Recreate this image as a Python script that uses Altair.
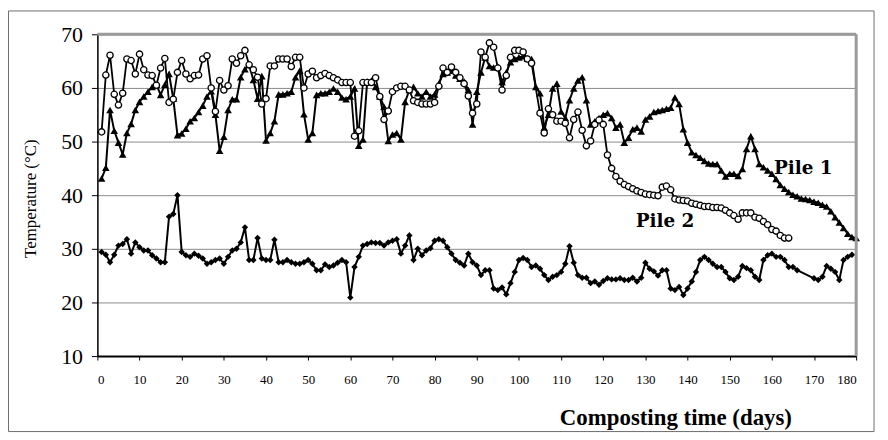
import altair as alt
import pandas as pd

# ---------------- data ----------------
pile1_days = list(range(1, 181))
pile1_temp = [
    43.1, 45.1, 55.9, 52.0, 49.8, 47.6, 51.6, 53.3, 55.9, 57.4,
    58.4, 59.3, 60.2, 60.6, 58.7, 60.6, 62.6, 58.0, 51.2, 51.5,
    52.4, 53.8, 54.4, 55.5, 56.7, 58.4, 59.4, 55.0, 48.3, 50.9,
    55.9, 57.9, 57.9, 62.0, 63.5, 64.3, 61.5, 58.0, 62.2, 50.2,
    51.6, 53.8, 58.8, 58.8, 59.0, 59.3, 62.0, 63.2, 55.1, 50.4,
    51.6, 58.7, 59.0, 59.0, 59.3, 59.9, 59.3, 58.2, 57.9, 58.4,
    59.9, 49.2, 50.4, 61.2, 61.4, 60.2, 58.4, 56.5, 50.1, 51.3,
    51.6, 50.4, 57.4, 59.6, 60.2, 59.0, 58.4, 59.3, 58.4, 58.8,
    60.8, 62.6, 62.9, 63.2, 62.3, 61.7, 61.2, 59.6, 53.2, 59.3,
    62.9, 65.7, 64.1, 63.8, 64.0, 61.1, 62.9, 64.8, 65.4, 65.7,
    65.9, 65.5, 65.4, 60.2, 59.0, 52.6, 55.0, 59.9, 60.8, 55.6,
    54.4, 57.7, 59.9, 61.4, 62.0, 57.7, 53.2, 53.8, 54.4, 55.0,
    55.3, 54.4, 52.6, 53.2, 49.8, 50.7, 52.3, 52.6, 51.9, 54.1,
    54.7, 55.5, 55.7, 55.9, 56.1, 56.3, 58.2, 57.0, 52.3, 49.8,
    48.0, 47.5, 47.0, 46.4, 45.9, 45.8, 45.8, 44.6, 43.5, 44.0,
    44.0, 43.6, 44.9, 48.6, 51.0, 48.6, 45.8, 45.2, 44.6, 44.0,
    43.0, 41.9, 41.2, 40.6, 40.1, 39.8, 39.4, 39.3, 39.1, 38.8,
    38.6, 38.2, 37.9, 37.0, 35.9, 34.9, 33.9, 32.8, 32.2, 32.0,
]

pile2_days = list(range(1, 104)) + list(range(105, 165))
pile2_temp = [
    51.8, 62.4, 66.1, 58.8, 56.8, 59.0, 65.4, 65.1, 62.6, 66.3,
    63.4, 62.4, 62.3, 60.5, 63.7, 65.5, 57.3, 57.9, 62.9, 65.1,
    62.6, 61.7, 62.3, 62.4, 65.4, 66.0, 60.0, 55.6, 61.4, 59.6,
    60.4, 65.4, 64.6, 66.0, 67.0, 64.3, 63.4, 62.0, 57.0, 58.0,
    64.1, 64.1, 65.4, 65.4, 65.4, 64.0, 65.7, 65.7, 60.0, 62.6,
    63.1, 61.9, 62.3, 62.7, 62.3, 61.9, 61.5, 61.0, 61.0, 61.0,
    51.0, 52.0, 61.0, 61.0, 61.0, 61.9, 58.4, 54.1, 55.7, 59.3,
    60.0, 60.3, 60.3, 59.6, 57.6, 57.3, 57.0, 57.0, 57.0, 57.3,
    60.3, 63.7, 62.9, 63.9, 62.9, 61.9, 60.8, 58.5, 55.3, 57.0,
    66.7, 65.7, 68.4, 67.6, 63.7, 59.6, 62.3, 65.7, 67.0, 67.0,
    66.7, 65.4, 64.6,
    55.3, 51.6, 56.1, 55.0, 53.8, 53.8, 53.4, 50.7, 54.1, 55.5,
    52.1, 49.2, 50.1, 53.2, 54.0, 53.2, 47.5, 45.0, 43.5, 42.6,
    42.0, 41.6, 41.2, 40.8, 40.5, 40.2, 40.1, 40.0, 39.9, 41.5,
    41.7, 41.0, 39.3, 39.1, 39.0, 38.9, 38.5, 38.3, 38.1, 37.9,
    37.9, 37.7, 37.7, 37.6, 37.2, 36.7, 36.2, 35.5, 36.7, 36.7,
    36.7, 35.9, 35.7, 35.1, 34.5, 33.6, 33.3, 32.5, 32.0, 32.0,
]

amb_days = list(range(1, 167)) + list(range(170, 180))
amb_temp = [
    29.4, 28.9, 27.5, 28.9, 30.6, 30.9, 31.8, 29.1, 31.2, 30.3,
    29.7, 29.7, 28.8, 28.2, 27.5, 27.5, 36.0, 36.5, 40.0, 29.4,
    28.8, 28.5, 29.1, 28.7, 28.2, 27.2, 27.5, 27.9, 28.2, 27.2,
    28.5, 29.7, 30.0, 31.2, 34.0, 27.9, 27.9, 32.0, 28.2, 27.9,
    27.9, 31.7, 27.5, 27.5, 27.9, 27.5, 27.2, 27.2, 27.5, 27.9,
    27.2, 26.0, 26.0, 27.1, 26.6, 26.9, 27.4, 27.9, 27.5, 20.9,
    26.6, 28.5, 30.6, 30.9, 31.2, 31.1, 31.1, 30.6, 31.2, 31.5,
    31.8, 29.1, 30.6, 32.5, 27.9, 30.0, 28.8, 29.7, 30.1, 31.5,
    31.8, 31.5, 30.3, 29.1, 27.9, 27.4, 26.9, 29.1, 27.5, 26.9,
    25.1, 26.0, 26.0, 22.6, 22.3, 22.8, 21.5, 23.6, 25.7, 27.9,
    28.3, 27.9, 26.6, 26.9, 26.3, 25.1, 24.2, 24.8, 25.1, 25.7,
    27.2, 30.5, 27.4, 25.1, 24.6, 24.6, 23.6, 23.9, 23.3, 24.0,
    24.5, 24.3, 24.3, 24.5, 24.2, 24.2, 24.6, 23.9, 24.6, 27.4,
    26.3, 25.8, 25.0, 26.0, 26.0, 22.6, 22.3, 22.9, 21.4, 22.6,
    23.9, 25.7, 27.9, 28.5, 27.9, 27.2, 26.6, 26.6, 25.7, 24.5,
    24.2, 24.8, 26.8, 26.4, 26.0, 24.8, 24.2, 27.9, 28.8, 29.1,
    28.5, 28.5, 27.9, 26.6, 26.6, 26.0,
    24.5, 24.2, 24.8, 26.8, 26.3, 25.7, 24.2, 27.9, 28.5, 28.9,
]

label_text = ["Pile 1", "Pile 2"]
label_day = [160.5, 127.7]
label_temp = [45.0, 35.2]

x_ticks = list(range(0, 181, 10))
y_ticks = list(range(10, 71, 10))

# ---------------- tables ----------------
p1 = pd.DataFrame({"day": pile1_days, "temp": pile1_temp})
p2 = pd.DataFrame({"day": pile2_days, "temp": pile2_temp})
am = pd.DataFrame({"day": amb_days, "temp": amb_temp})
labels = pd.DataFrame({"text": label_text, "day": label_day, "temp": label_temp})

SERIF = "Liberation Serif"

xscale = alt.Scale(domain=[0, 180], nice=False, zero=False)
yscale = alt.Scale(domain=[10, 70], nice=False, zero=False)

x_axis = alt.Axis(
    values=x_ticks, title="Composting time (days)", grid=False,
    labelFont=SERIF, labelFontSize=13, labelColor="black", labelPadding=14,
    tickSize=4, tickColor="black", domainColor="black", domainWidth=2,
    titleFont=SERIF, titleFontSize=23, titleFontWeight="bold", titleColor="black",
    titleX=582, titleY=62, titleAlign="center", titleBaseline="middle",
)
y_axis = alt.Axis(
    values=y_ticks, title="Temperature (°C)",
    grid=True, gridColor="#8a8a8a", gridWidth=1,
    labelFont=SERIF, labelFontSize=22, labelColor="black", labelPadding=9,
    tickSize=6, tickColor="black", domainColor="black", domainWidth=1.5,
    titleFont=SERIF, titleFontSize=17, titleFontWeight="normal", titleColor="black",
    titleX=-67, titleY=165, titleAlign="center", titleBaseline="middle", titleAngle=270,
)

base_x = alt.X("day:Q", scale=xscale, axis=x_axis)
base_y = alt.Y("temp:Q", scale=yscale, axis=y_axis)

frame_df = pd.DataFrame({"k": [0]})
frame = alt.Chart(frame_df).mark_rect(filled=False, stroke="#6e6e6e", strokeWidth=1).encode(
    x=alt.value(-89.5), x2=alt.value(782), y=alt.value(-23.5), y2=alt.value(400)
)

top_right = pd.DataFrame({"x1": [0, 180], "x2": [180, 180], "y1": [70, 10], "y2": [70, 70]})
border = alt.Chart(top_right).mark_rule(color="#9a9a9a", strokeWidth=3).encode(
    x=alt.X("x1:Q", scale=xscale), x2="x2:Q",
    y=alt.Y("y1:Q", scale=yscale), y2="y2:Q",
)

amb_layer = alt.Chart(am).mark_line(
    color="black", strokeWidth=2,
    point=alt.OverlayMarkDef(shape="diamond", size=42, filled=True, color="black"),
).encode(x=base_x, y=base_y)

p1_layer = alt.Chart(p1).mark_line(
    color="black", strokeWidth=2,
    point=alt.OverlayMarkDef(shape="triangle-up", size=58, filled=True, color="black"),
).encode(x=alt.X("day:Q", scale=xscale), y=alt.Y("temp:Q", scale=yscale))

p2_layer = alt.Chart(p2).mark_line(
    color="black", strokeWidth=1.8,
    point=alt.OverlayMarkDef(shape="circle", size=40, filled=True, fill="white",
                             stroke="black", strokeWidth=1.3),
).encode(x=alt.X("day:Q", scale=xscale), y=alt.Y("temp:Q", scale=yscale))

text_layer = alt.Chart(labels).mark_text(
    font="DejaVu Serif", fontSize=18.5, fontWeight="bold", color="black",
    align="left", baseline="middle",
).encode(x=alt.X("day:Q", scale=xscale), y=alt.Y("temp:Q", scale=yscale), text="text:N")

chart = alt.layer(frame, amb_layer, p1_layer, p2_layer, border, text_layer).properties(
    width=764, height=324,
    autosize=alt.AutoSizeParams(type="none"),
    padding={"left": 90, "top": 25, "right": 24, "bottom": 80},
).configure_view(stroke=None).configure(background="white")

chart.save("out.html", embed_options={"renderer": "svg", "actions": False})
